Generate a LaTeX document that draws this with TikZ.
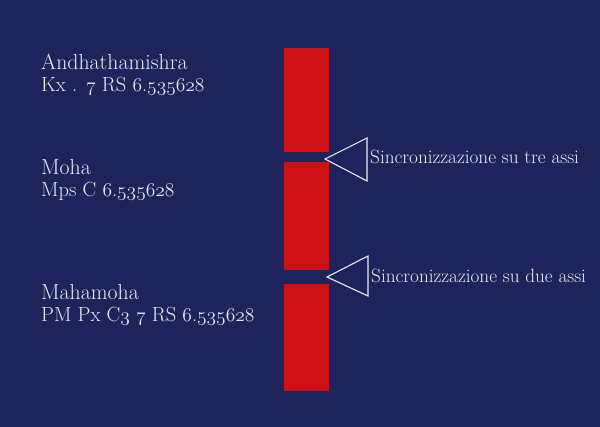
\RequirePackage{fix-cm}
\documentclass[tikz,border=0pt]{standalone}
\usepackage{fontspec}
\definecolor{navy}{RGB}{31,35,92}
\definecolor{barred}{RGB}{204,16,20}
\definecolor{txt}{RGB}{236,236,244}
\tikzset{
  bar/.style={fill=barred, draw=none, minimum width=45pt, inner sep=0pt, outer sep=0pt},
  lefttext/.style={text=txt, font=\fontsize{21.8}{22}\selectfont, align=left, anchor=base west, inner sep=0pt},
  righttext/.style={text=txt, font=\fontsize{19.2}{20}\selectfont, anchor=base west, inner sep=0pt},
  marker/.style={draw=txt, line width=1.1pt, line join=miter}
}
\newcommand{\osn}[1]{{\fontsize{19.5}{22}\usefont{OML}{cmm}{m}{it}#1}}
\newcommand{\secondline}{\fontsize{20.5}{22}\selectfont}
\begin{document}
\begin{tikzpicture}[x=1pt,y=-1pt]
\fill[navy] (0,0) rectangle (600,427);
\useasboundingbox (0,0) rectangle (600,427);
% bars
\node[bar, minimum height=104.5pt, anchor=north west] (b1) at (284,48) {};
\node[bar, minimum height=108pt, anchor=north west] (b2) at (284,162.5) {};
\node[bar, minimum height=107pt, anchor=north west] (b3) at (284,284.5) {};
% labels
\node[lefttext] (l1) at (41,92) {Andhathamishra\\\secondline Kx .\hspace{9pt}\osn{7} RS \osn{6}.\osn{535628}};
\node[lefttext] (l2) at (41,197) {Moha\\\secondline Mps C \osn{6}.\osn{535628}};
\node[lefttext] (l3) at (41,322) {Mahamoha\\\secondline PM Px C\osn{3} \osn{7} RS \osn{6}.\osn{535628}};
% markers
\coordinate (t1) at (325,159);
\coordinate (t1a) at (367,138);
\coordinate (t1b) at (367,181);
\draw[marker] (t1) -- (t1a) -- (t1b) -- cycle;
\node[righttext] (s1) at (370,164) {Sincronizzazione su tre assi};
\coordinate (t2) at (327,277);
\coordinate (t2a) at (368,256);
\coordinate (t2b) at (368,296);
\draw[marker] (t2) -- (t2a) -- (t2b) -- cycle;
\node[righttext] (s2) at (371,283) {Sincronizzazione su due assi};
\end{tikzpicture}
\end{document}
